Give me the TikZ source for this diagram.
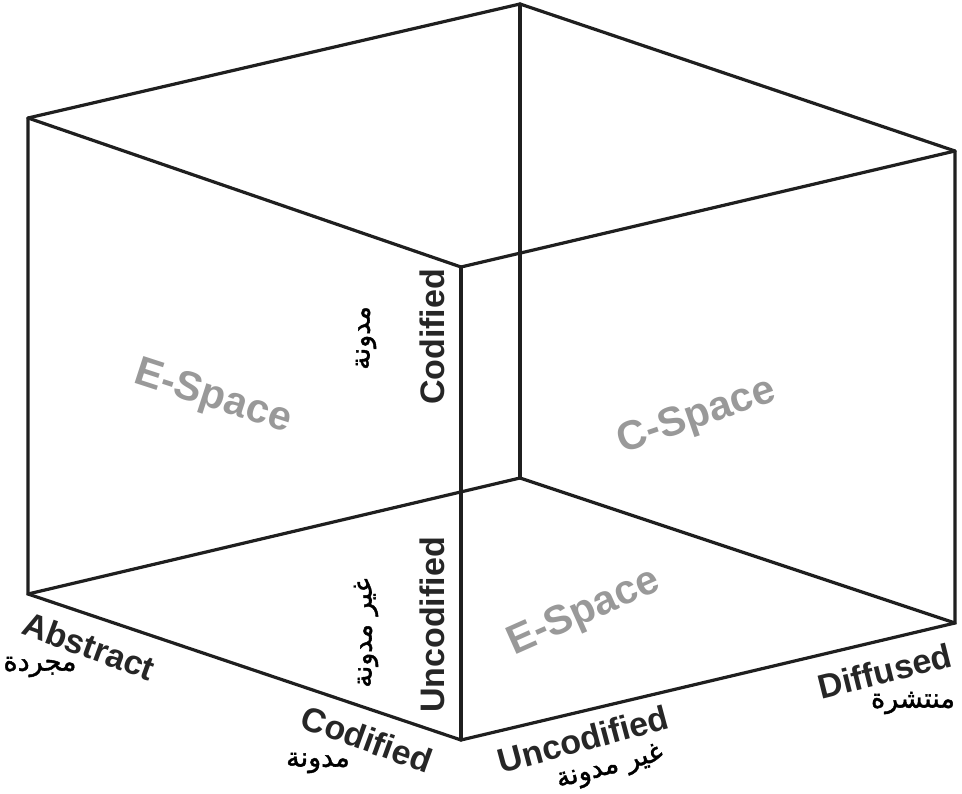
\documentclass[tikz,border=0pt]{standalone}
\usepackage{fontspec}
\setmainfont{Liberation Sans}
\newfontfamily\arabicfont[Script=Arabic,FakeBold=1.5]{DejaVu Sans}
\TeXXeTstate=1
\begin{document}
\begin{tikzpicture}[x=1pt,y=-1pt,
  edge/.style={draw=black!88, line width=3.2pt, line join=miter, line cap=round},
  axlab/.style={font=\bfseries\fontsize{34}{34}\selectfont, text=black!85, inner sep=0pt},
  arlab/.style={font=\arabicfont\fontsize{27}{27}\selectfont, text=black, inner sep=0pt},
  spacelab/.style={font=\bfseries\fontsize{41}{41}\selectfont, text=black!40, inner sep=0pt}]
\useasboundingbox (0,0) rectangle (962,794);
% cube vertices
\coordinate (Ft) at (461,267);
\coordinate (Fb) at (461,740);
\coordinate (Lt) at (28,118);
\coordinate (Lb) at (28,594);
\coordinate (Rt) at (955,151);
\coordinate (Rb) at (955,623);
\coordinate (Bt) at (520,4);
\coordinate (Bb) at (520,478);
% back edges
\draw[edge] (Bt) -- (Bb);
\draw[edge] (Lb) -- (Bb) -- (Rb);
% outer edges
\draw[edge] (Lt) -- (Bt) -- (Rt);
\draw[edge] (Lt) -- (Ft) -- (Rt);
\draw[edge] (Lt) -- (Lb) -- (Fb) -- (Rb) -- (Rt);
\draw[edge] (Ft) -- (Fb);
% space labels
\node[spacelab, rotate=-18] (e1) at (213,398) {E-Space};
\node[spacelab, rotate=19] (c1) at (697,417) {C-Space};
\node[spacelab, rotate=24] (e2) at (584,613) {E-Space};
% axis labels
\node[axlab, rotate=-20] (abs) at (89,646) {Abstract};
\node[arlab] (absar) at (40,667) {\beginR مجردة\endR};
\node[axlab, rotate=-20] (cod1) at (367,739) {Codified};
\node[arlab] (cod1ar) at (318,763) {\beginR مدونة\endR};
\node[axlab, rotate=15] (unc1) at (583,739) {Uncodified};
\node[arlab, rotate=15] (unc1ar) at (610,768) {\beginR غير مدونة\endR};
\node[axlab, rotate=14] (dif) at (885,671) {Diffused};
\node[arlab] (difar) at (913,703) {\beginR منتشرة\endR};
\node[axlab, rotate=90] (cod2) at (432,337) {Codified};
\node[arlab, rotate=90] (cod2ar) at (366,338) {\beginR مدونة\endR};
\node[axlab, rotate=90] (unc2) at (432,625) {Uncodified};
\node[arlab, rotate=90] (unc2ar) at (366,633) {\beginR غير مدونة\endR};
\end{tikzpicture}
\end{document}
